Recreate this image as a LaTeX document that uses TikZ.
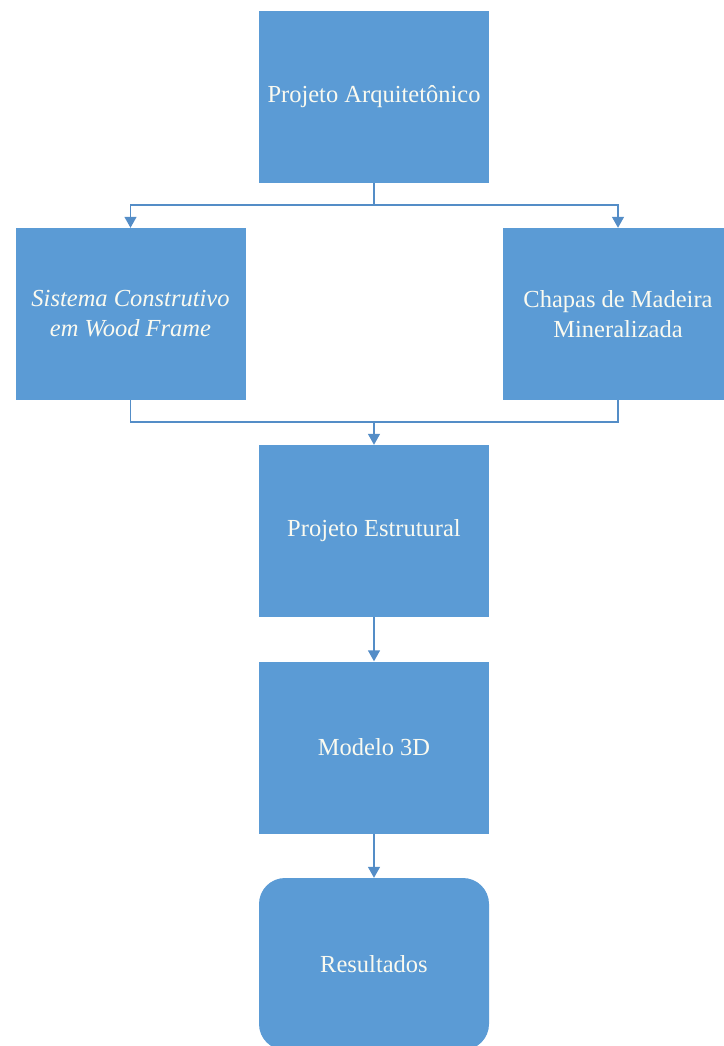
\documentclass[tikz,border=0pt]{standalone}
\usepackage{fontspec}
\setmainfont{Liberation Serif}
\usepackage{tikz}
\usetikzlibrary{arrows.meta}
\definecolor{caixa}{RGB}{91,155,213}
\definecolor{linha}{RGB}{84,141,199}
\definecolor{texto}{RGB}{250,250,240}

\begin{document}
\begin{tikzpicture}[x=1pt,y=1pt,
  bloco/.style={fill=caixa,draw=none,minimum width=230pt,minimum height=172pt,
    text=texto,align=center,font=\fontsize{24.5}{30}\selectfont,inner sep=0pt},
  fio/.style={draw=linha,line width=1.4pt},
  seta/.style={fio,-{Triangle[width=12pt,length=11pt]}}]
\useasboundingbox (0,0) rectangle (723,-1046);
% blocos:
\node[bloco] (arq) at (374,-97) {Projeto Arquitetônico};
\node[bloco] (sis) at (130.5,-314) {\itshape Sistema Construtivo\\\itshape em Wood Frame};
\node[bloco] (cha) at (618,-314) {Chapas de Madeira\\Mineralizada};
\node[bloco] (est) at (374,-531) {Projeto Estrutural};
\node[bloco] (mod) at (374,-747.5) {Modelo 3D};
\node[bloco,rounded corners=26pt] (res) at (374,-964) {Resultados};
% ligacoes:
\coordinate (div) at (374,-205);
\coordinate (uni) at (374,-422);
\draw[fio] (arq.south) -- (div);
\draw[seta] (div) -| (sis.north);
\draw[seta] (div) -| (cha.north);
\draw[fio] (sis.south) |- (uni);
\draw[fio] (cha.south) |- (uni);
\draw[seta] (uni) -- (est.north);
\draw[seta] (est.south) -- (mod.north);
\draw[seta] (mod.south) -- (res.north);
\end{tikzpicture}
\end{document}
